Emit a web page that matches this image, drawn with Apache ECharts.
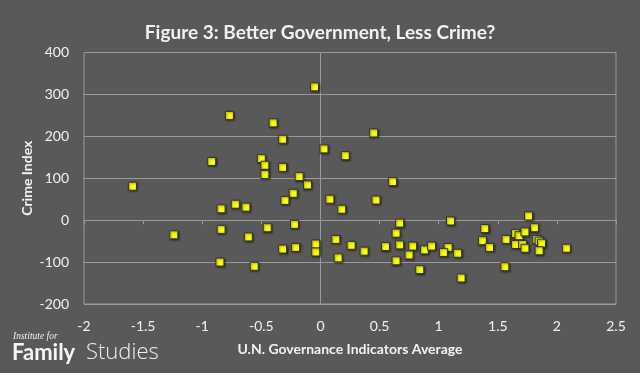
<!DOCTYPE html>
<html>
<head>
<meta charset="utf-8">
<script src="https://cdn.jsdelivr.net/npm/echarts@6/dist/echarts.min.js"></script>
<style>
html,body{margin:0;padding:0;background:#595959;}
#chart{width:640px;height:373px;}
</style>
</head>
<body>
<div id="chart"></div>
<script>
const titleText = 'Figure 3: Better Government, Less Crime?';
const xAxisTitle = 'U.N. Governance Indicators Average';
const yAxisTitle = 'Crime Index';
const xTicks = { min: -2, max: 2.5, interval: 0.5 };
const yTicks = { min: -200, max: 400, interval: 100 };

// U.N. Governance Indicators Average (x) and Crime Index (y)
const governance = [
  -0.05, -0.77, -0.40, -0.32, 0.03, -0.92, -0.50, -0.47, -0.32, -0.47,
  -0.18, -0.11, -1.59, -0.23, -0.30, 0.08, -0.72, -0.84, -0.63, -0.45,
  -0.22, -1.24, -0.84, -0.61, -0.04, -0.04, -0.32, -0.21, -0.85, -0.56,
  0.45, 0.21, 0.61, 0.47, 0.18, 1.76, 0.67, 1.10, 0.64, 1.39,
  1.81, 1.65, 1.68, 1.73, 0.13, 0.26, 0.37, 0.15, 0.55, 0.67,
  0.78, 0.88, 0.94, 1.08, 1.04, 1.16, 0.75, 0.64, 0.84, 1.19,
  1.37, 1.43, 1.57, 1.65, 1.71, 1.73, 1.83, 1.85, 1.87, 1.85,
  2.08, 1.56
];
const crimeIndex = [
  318, 250, 232, 193, 170, 140, 147, 131, 126, 109,
  104, 84, 81, 64, 47, 50, 38, 27, 31, -18,
  -10, -35, -22, -40, -57, -76, -69, -65, -100, -110,
  208, 154, 92, 48, 26, 10, -7, -2, -31, -20,
  -18, -32, -37, -28, -46, -60, -74, -90, -63, -59,
  -62, -71, -62, -65, -77, -79, -83, -97, -118, -138,
  -49, -65, -46, -58, -58, -67, -46, -50, -55, -73,
  -67, -111
];

const points = governance.map((g, i) => [g, crimeIndex[i]]);

const gridColor = '#9a9a9a';
const textColor = '#f2f2f2';
const baseFont = 'Lato, "Open Sans", sans-serif';

const chart = echarts.init(document.getElementById('chart'), null, { renderer: 'canvas' });
chart.setOption({
  backgroundColor: '#595959',
  animation: false,
  title: {
    text: titleText,
    left: 'center',
    top: 18,
    textStyle: { color: textColor, fontFamily: baseFont, fontWeight: 'bold', fontSize: 19 }
  },
  grid: {
    left: 84, right: 24, top: 52.5, bottom: 69,
    show: true, borderColor: gridColor, borderWidth: 1, backgroundColor: 'transparent'
  },
  xAxis: [
    {
      type: 'value', min: xTicks.min, max: xTicks.max, interval: xTicks.interval,
      position: 'bottom',
      axisLine: { show: false, onZero: false },
      axisTick: { show: false },
      splitLine: { show: false },
      axisLabel: { color: textColor, fontFamily: baseFont, fontSize: 14, margin: 15 },
      name: xAxisTitle, nameLocation: 'middle', nameGap: 38, nameMoveOverlap: false,
      nameTextStyle: { color: textColor, fontFamily: baseFont, fontWeight: 'bold', fontSize: 14 }
    },
    {
      type: 'value', min: xTicks.min, max: xTicks.max, interval: xTicks.interval,
      position: 'bottom',
      axisLine: { show: true, onZero: true, lineStyle: { color: gridColor, width: 1 } },
      axisTick: { show: true, inside: false, length: 4, lineStyle: { color: gridColor } },
      axisLabel: { show: false },
      splitLine: { show: false }
    }
  ],
  yAxis: [
    {
      type: 'value', min: yTicks.min, max: yTicks.max, interval: yTicks.interval,
      position: 'left',
      axisLine: { show: false, onZero: false },
      axisTick: { show: false },
      splitLine: { show: true, lineStyle: { color: gridColor, width: 1 } },
      axisLabel: { color: textColor, fontFamily: baseFont, fontSize: 14, margin: 15 },
      name: yAxisTitle, nameLocation: 'middle', nameGap: 50, nameMoveOverlap: false,
      nameTextStyle: { color: textColor, fontFamily: baseFont, fontWeight: 'bold', fontSize: 14 }
    },
    {
      type: 'value', min: yTicks.min, max: yTicks.max, interval: yTicks.interval,
      position: 'left',
      axisLine: { show: true, onZero: true, lineStyle: { color: gridColor, width: 1 } },
      axisTick: { show: false },
      axisLabel: { show: false },
      splitLine: { show: false }
    }
  ],
  series: [{
    type: 'scatter',
    xAxisIndex: 0, yAxisIndex: 0,
    symbol: 'rect',
    symbolSize: 8,
    data: points,
    itemStyle: {
      color: '#ffff00',
      borderColor: '#2e3148',
      borderWidth: 1,
      shadowColor: 'rgba(0,0,0,0.45)',
      shadowBlur: 2,
      shadowOffsetX: 1,
      shadowOffsetY: 1,
      opacity: 1
    }
  }],
  graphic: [
    {
      type: 'text', left: 13, top: 331,
      style: { text: 'Institute for', fill: '#eeeeee', font: 'italic 9.5px "Liberation Serif", serif' }
    },
    {
      type: 'text', left: 12, top: 342,
      style: { text: 'Family', fill: '#f5f5f5', font: 'bold 22px Lato, "Open Sans", sans-serif' }
    },
    {
      type: 'text', left: 86, top: 342,
      style: { text: 'Studies', fill: '#f0f0f0', font: '300 22px "Open Sans", Lato, sans-serif' }
    }
  ]
});
</script>
</body>
</html>
